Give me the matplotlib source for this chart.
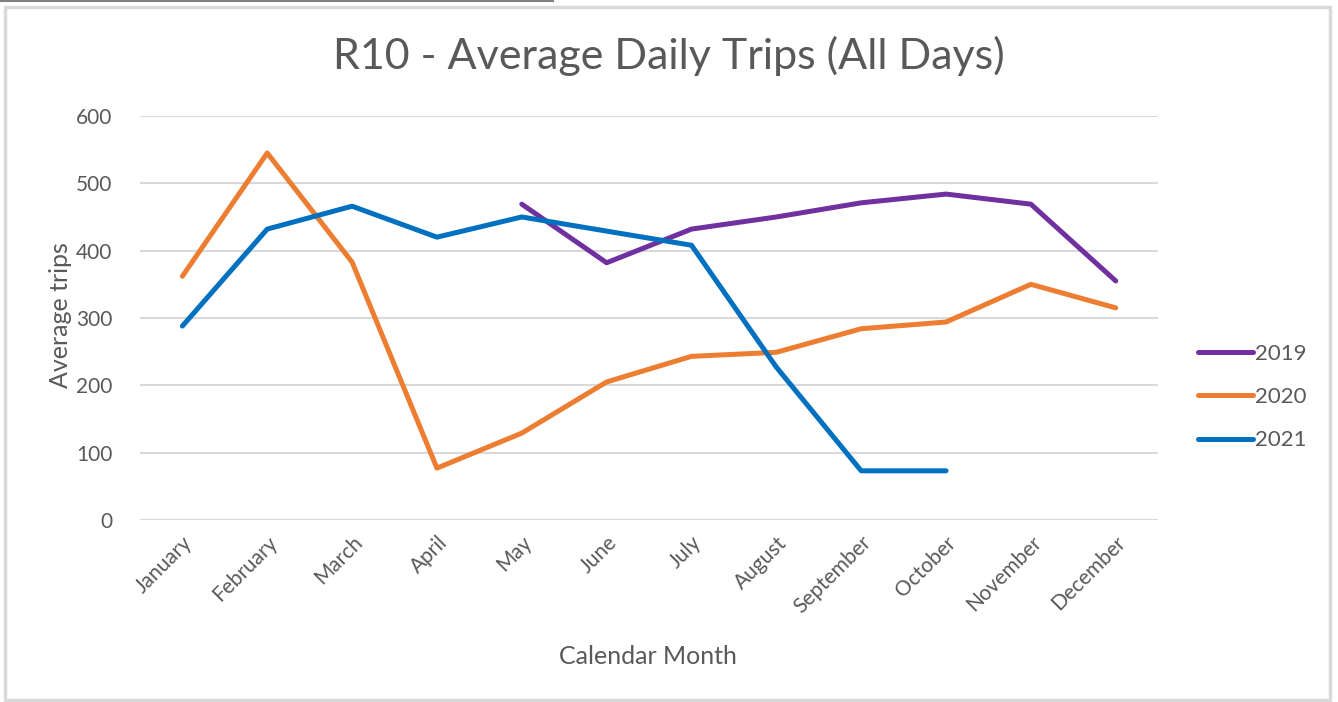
import matplotlib.pyplot as plt
import numpy as np
from matplotlib.lines import Line2D
from matplotlib.patches import Rectangle

plt.rcParams['font.family'] = ['Lato', 'DejaVu Sans']

months = ['January', 'February', 'March', 'April', 'May', 'June', 'July',
          'August', 'September', 'October', 'November', 'December']
trips_2019 = [None, None, None, None, 469, 382, 432, 450, 471, 484, 469, 355]
trips_2020 = [362, 545, 383, 77, 129, 205, 243, 249, 284, 294, 350, 315]
trips_2021 = [288, 432, 466, 420, 450, 429, 408, 227, 73, 73, None, None]

series = [('2019', trips_2019, '#7030A0'),
          ('2020', trips_2020, '#ED7D31'),
          ('2021', trips_2021, '#0070C0')]

fig = plt.figure(figsize=(13.38, 7.02), dpi=100)
ax = fig.add_axes([0.1046, 0.2593, 0.761, 0.5755])

x = np.arange(len(months))
for name, vals, col in series:
    y = np.array([np.nan if v is None else v for v in vals], dtype=float)
    ax.plot(x, y, color=col, lw=3.6, label=name, solid_capstyle='round',
            solid_joinstyle='round', zorder=3)

ax.set_xlim(-0.5, 11.5)
ax.set_ylim(0, 600)
ax.set_yticks(range(0, 601, 100))
ax.set_xticks(x)
ax.set_xticklabels(months, rotation=45, ha='right', rotation_mode='anchor')
ax.yaxis.grid(True, color='#D9D9D9', lw=1.5)
ax.set_axisbelow(True)
for s in ax.spines.values():
    s.set_visible(False)
ax.tick_params(length=0, labelsize=15, labelcolor='#595959')
ax.tick_params(axis='y', pad=20)
ax.tick_params(axis='x', pad=9)

# axis titles
fig.text(60 / 1338, 1 - 315 / 702, 'Average trips', rotation=90, ha='center',
         va='center', fontsize=18, color='#595959')
fig.text(648 / 1338, 1 - 657 / 702, 'Calendar Month', ha='center',
         va='center', fontsize=18, color='#595959')
fig.text(0.5, 0.921, 'R10 - Average Daily Trips (All Days)', ha='center',
         va='center', fontsize=31, color='#595959')

ax.legend(loc='center left', bbox_to_anchor=(1.019, 0.304), frameon=False,
          fontsize=16, labelcolor='#595959', handlelength=2.5,
          labelspacing=1.05, handletextpad=0.1)

fig.add_artist(Rectangle((5 / 1338, 2 / 702), 1325 / 1338, 693 / 702,
                         transform=fig.transFigure, fill=False,
                         edgecolor='#D9D9D9', lw=2.5))
fig.add_artist(Line2D([0, 553 / 1338], [701 / 702, 701 / 702],
                      transform=fig.transFigure, color='#808080', lw=1.5))

fig.savefig('out.png', dpi=100)
